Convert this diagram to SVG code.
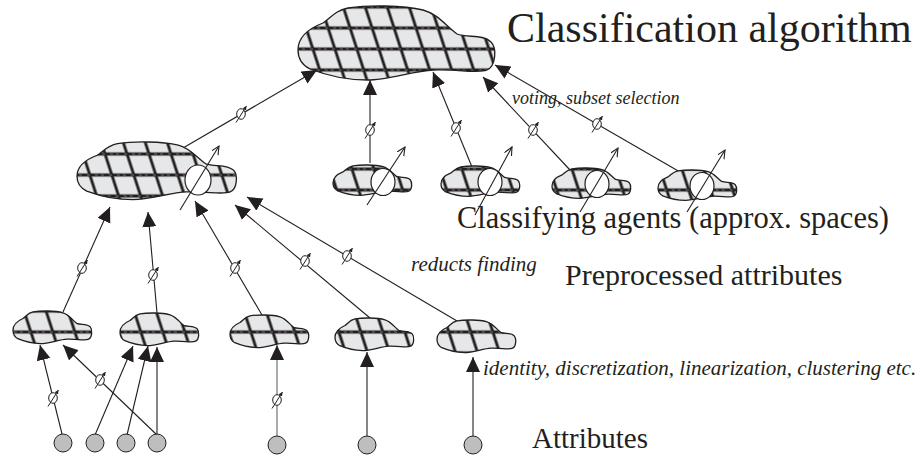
<svg xmlns="http://www.w3.org/2000/svg" xmlns:xlink="http://www.w3.org/1999/xlink" width="923" height="458" viewBox="0 0 923 458">
<style>
.ol{fill:none;stroke:#231f20;stroke-width:1.3}
.ln{fill:none;stroke:#231f20;stroke-width:1.1}
.gr{fill:none;stroke:#939598;stroke-width:1.6}
.ar{marker-end:url(#tri)}
.ag{fill:none;stroke:#231f20;stroke-width:1.1;marker-end:url(#open)}
.hole{fill:#fff;stroke:#231f20;stroke-width:1.2}
.attr{fill:#bcbec0;stroke:#231f20;stroke-width:1}
.big{font-family:"Liberation Serif","Times New Roman",serif;fill:#231f20}
.it{font-family:"Liberation Serif","Times New Roman",serif;font-style:italic;fill:#231f20}
</style>
<defs>
<path id="cl" vector-effect="non-scaling-stroke" d="M0,44 C0,30 12,22 25,17 C33,12 36,5 50,2 C70,-1 105,-1 125,4 C140,8 148,20 159,28 C170,32 185,28 193,36 C199,42 198,60 189,64 C180,68 160,63 135,64 C115,65 90,74 69,74 C45,74 25,68 12,63 C4,59 0,52 0,44 Z"/>
<pattern id="g1" patternUnits="userSpaceOnUse" width="22" height="21" y="-3.5" patternTransform="skewX(18)">
<rect width="22" height="21" fill="#e6e7e8"/>
<path d="M11,0V21M0,10.5H22" stroke="#231f20" stroke-width="3"/>
<path d="M0,10.5H22" stroke="#fff" stroke-width="0.5" stroke-dasharray="3 5" opacity="0.8"/>
</pattern>
<pattern id="g2" patternUnits="userSpaceOnUse" width="22" height="21" y="-9.5" patternTransform="skewX(18)">
<rect width="22" height="21" fill="#e6e7e8"/>
<path d="M11,0V21M0,10.5H22" stroke="#231f20" stroke-width="3"/>
<path d="M0,10.5H22" stroke="#fff" stroke-width="0.5" stroke-dasharray="3 5" opacity="0.8"/>
</pattern>
<pattern id="g3" patternUnits="userSpaceOnUse" width="22" height="21" y="6.5" patternTransform="skewX(18)">
<rect width="22" height="21" fill="#e6e7e8"/>
<path d="M11,0V21M0,10.5H22" stroke="#231f20" stroke-width="3"/>
<path d="M0,10.5H22" stroke="#fff" stroke-width="0.5" stroke-dasharray="3 5" opacity="0.8"/>
</pattern>
<marker id="tri" markerUnits="userSpaceOnUse" markerWidth="16" markerHeight="15" refX="15" refY="7" orient="auto"><path d="M0,0 L15,7 L0,14 Z" fill="#231f20"/></marker>
<marker id="open" markerUnits="userSpaceOnUse" markerWidth="10" markerHeight="9" refX="8.5" refY="4" orient="auto"><path d="M0,0 L8.5,4 L0,8" fill="none" stroke="#231f20" stroke-width="1.1"/></marker>
<marker id="sm" markerUnits="userSpaceOnUse" markerWidth="5" markerHeight="5" refX="4" refY="2" orient="auto"><path d="M0,0 L4,2 L0,4 Z" fill="#231f20"/></marker>
<g id="phi"><ellipse rx="4.3" ry="5.3" fill="#fff" stroke="#231f20" stroke-width="1"/><line x1="-5" y1="8.5" x2="5.5" y2="-8" stroke="#231f20" stroke-width="1" marker-end="url(#sm)"/></g>
<clipPath id="k0"><use xlink:href="#cl" transform="translate(298,6)"/></clipPath>
<clipPath id="k1"><use xlink:href="#cl" transform="translate(77,142) scale(0.81,0.78)"/></clipPath>
<clipPath id="k2"><use xlink:href="#cl" transform="translate(333,165) scale(0.4,0.41)"/></clipPath>
<clipPath id="k3"><use xlink:href="#cl" transform="translate(441,166) scale(0.4,0.41)"/></clipPath>
<clipPath id="k4"><use xlink:href="#cl" transform="translate(552,168) scale(0.4,0.41)"/></clipPath>
<clipPath id="k5"><use xlink:href="#cl" transform="translate(658,170) scale(0.4,0.41)"/></clipPath>
<clipPath id="k6"><use xlink:href="#cl" transform="translate(13,311) scale(0.4,0.44)"/></clipPath>
<clipPath id="k7"><use xlink:href="#cl" transform="translate(120,313) scale(0.4,0.44)"/></clipPath>
<clipPath id="k8"><use xlink:href="#cl" transform="translate(230,315) scale(0.4,0.44)"/></clipPath>
<clipPath id="k9"><use xlink:href="#cl" transform="translate(335,318) scale(0.4,0.44)"/></clipPath>
<clipPath id="k10"><use xlink:href="#cl" transform="translate(437,320) scale(0.4,0.44)"/></clipPath>
</defs>

<g id="connectors">
<path class="ln ar" d="M183,148 L317,70"/>
<path class="ln ar" d="M370,163 L370,80"/>
<path class="ln ar" d="M472,167 L433,72"/>
<path class="ln ar" d="M570,170 L483,77"/>
<path class="ln ar" d="M680,172 L495,65"/>
<path class="ln ar" d="M63,312 L110,207"/>
<path class="ln ar" d="M157,313 L148,212"/>
<path class="ln ar" d="M262,315 L195,201"/>
<path class="ln ar" d="M370,318 L235,205"/>
<path class="ln ar" d="M457,321 L247,197"/>
<path class="ln ar" d="M62,434 L40,345"/>
<path class="ln ar" d="M157,435 L63,345"/>
<path class="ln ar" d="M95,435 L133,346"/>
<path class="ln ar" d="M127,435 L148,346"/>
<path class="ln ar" d="M157,435 L157,347"/>
<path class="gr ar" d="M277,436 L277,345"/>
<path class="ln ar" d="M367,436 L367,352"/>
<path class="ln ar" d="M473,436 L473,357"/>
<use xlink:href="#phi" x="241" y="114"/>
<use xlink:href="#phi" x="370" y="130"/>
<use xlink:href="#phi" x="456" y="128"/>
<use xlink:href="#phi" x="533" y="130"/>
<use xlink:href="#phi" x="597" y="124"/>
<use xlink:href="#phi" x="82" y="268"/>
<use xlink:href="#phi" x="153" y="275"/>
<use xlink:href="#phi" x="235" y="268"/>
<use xlink:href="#phi" x="305" y="261"/>
<use xlink:href="#phi" x="347" y="256"/>
<use xlink:href="#phi" x="53" y="398"/>
<use xlink:href="#phi" x="100" y="380"/>
<use xlink:href="#phi" x="277" y="400"/>
</g>

<g id="classifier">
<rect x="290" y="0" width="215" height="90" fill="url(#g1)" clip-path="url(#k0)"/>
<use xlink:href="#cl" class="ol" transform="translate(298,6)"/>
</g>

<g id="composite-agent">
<rect x="70" y="135" width="175" height="70" fill="url(#g1)" clip-path="url(#k1)"/>
<use xlink:href="#cl" class="ol" transform="translate(77,142) scale(0.81,0.78)"/>
<ellipse class="hole" cx="198" cy="180" rx="13" ry="15"/>
<path class="ag" d="M180,210 L219,146"/>
</g>

<g id="agent1">
<rect x="330" y="160" width="90" height="40" fill="url(#g2)" clip-path="url(#k2)"/>
<use xlink:href="#cl" class="ol" transform="translate(333,165) scale(0.4,0.41)"/>
<ellipse class="hole" cx="383" cy="182" rx="12" ry="13.5"/>
<path class="ag" d="M367,205 L405,147"/>
</g>
<g id="agent2">
<rect x="438" y="160" width="90" height="40" fill="url(#g2)" clip-path="url(#k3)"/>
<use xlink:href="#cl" class="ol" transform="translate(441,166) scale(0.4,0.41)"/>
<ellipse class="hole" cx="490" cy="182" rx="12" ry="13.5"/>
<path class="ag" d="M475,215 L512,147"/>
</g>
<g id="agent3">
<rect x="548" y="162" width="90" height="40" fill="url(#g2)" clip-path="url(#k4)"/>
<use xlink:href="#cl" class="ol" transform="translate(552,168) scale(0.4,0.41)"/>
<ellipse class="hole" cx="597" cy="184" rx="12" ry="13.5"/>
<path class="ag" d="M580,212 L618,148"/>
</g>
<g id="agent4">
<rect x="654" y="164" width="90" height="40" fill="url(#g2)" clip-path="url(#k5)"/>
<use xlink:href="#cl" class="ol" transform="translate(658,170) scale(0.4,0.41)"/>
<ellipse class="hole" cx="702" cy="186" rx="12" ry="13.5"/>
<path class="ag" d="M687,212 L725,150"/>
</g>

<g id="pre1"><rect x="8" y="305" width="92" height="45" fill="url(#g3)" clip-path="url(#k6)"/><use xlink:href="#cl" class="ol" transform="translate(13,311) scale(0.4,0.44)"/></g>
<g id="pre2"><rect x="115" y="307" width="92" height="45" fill="url(#g3)" clip-path="url(#k7)"/><use xlink:href="#cl" class="ol" transform="translate(120,313) scale(0.4,0.44)"/></g>
<g id="pre3"><rect x="225" y="309" width="92" height="45" fill="url(#g3)" clip-path="url(#k8)"/><use xlink:href="#cl" class="ol" transform="translate(230,315) scale(0.4,0.44)"/></g>
<g id="pre4"><rect x="330" y="312" width="92" height="45" fill="url(#g3)" clip-path="url(#k9)"/><use xlink:href="#cl" class="ol" transform="translate(335,318) scale(0.4,0.44)"/></g>
<g id="pre5"><rect x="432" y="314" width="92" height="45" fill="url(#g3)" clip-path="url(#k10)"/><use xlink:href="#cl" class="ol" transform="translate(437,320) scale(0.4,0.44)"/></g>

<g id="attr1"><circle class="attr" cx="63" cy="443" r="9"/></g>
<g id="attr2"><circle class="attr" cx="95" cy="443" r="9"/></g>
<g id="attr3"><circle class="attr" cx="126" cy="443" r="9"/></g>
<g id="attr4"><circle class="attr" cx="157" cy="443" r="9"/></g>
<g id="attr5"><circle class="attr" cx="277" cy="445" r="9"/></g>
<g id="attr6"><circle class="attr" cx="367" cy="445" r="9"/></g>
<g id="attr7"><circle class="attr" cx="473" cy="445" r="9"/></g>

<g id="labels">
<text class="big" x="507" y="42" font-size="42">Classification algorithm</text>
<text class="it" x="512" y="104" font-size="18">voting, subset selection</text>
<text class="big" x="457" y="228" font-size="30.5">Classifying agents (approx. spaces)</text>
<text class="it" x="411" y="271" font-size="21">reducts finding</text>
<text class="big" x="565" y="285" font-size="30">Preprocessed attributes</text>
<text class="it" x="483" y="375" font-size="21">identity, discretization, linearization, clustering etc.</text>
<text class="big" x="532" y="448" font-size="29">Attributes</text>
</g>
</svg>
